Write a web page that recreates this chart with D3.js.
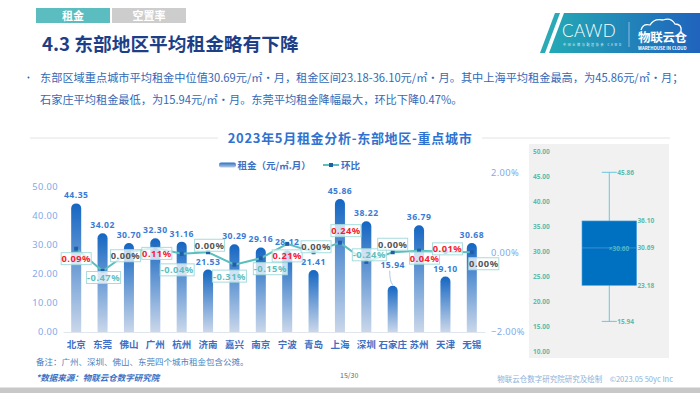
<!DOCTYPE html>
<html>
<head>
<meta charset="utf-8">
<style>
    body { margin: 0; background: #fff; }
    svg { display: block; font-family: "Noto Sans CJK SC", "Noto Sans", sans-serif; }
</style>
</head>
<body>
<script src="https://d3js.org/d3.v7.min.js"></script>
<script>
    const W = 700, H = 393;

    // data
    const cities = ["北京", "东莞", "佛山", "广州", "杭州", "济南", "嘉兴", "南京", "宁波", "青岛", "上海", "深圳", "石家庄", "苏州", "天津", "无锡"];
    const rent = [44.35, 34.02, 30.70, 32.30, 31.16, 21.53, 30.29, 29.16, 28.12, 21.41, 45.86, 38.22, 15.94, 36.79, 19.10, 30.68];
    const mom = [0.09, -0.47, 0.00, 0.11, -0.04, 0.00, -0.31, -0.15, 0.21, 0.00, 0.24, -0.24, 0.00, 0.04, 0.01, 0.00];
    const leftTicks = [0, 10, 20, 30, 40, 50];
    const rightTicks = [-2, 0, 2];
    // box plot summary
    const boxStats = { min: 15.94, q1: 23.18, median: 30.69, mean: 30.60, q3: 36.10, max: 45.86 };
    const boxTicks = [10, 15, 20, 25, 30, 35, 40, 45, 50];

    // label layout nudges (px), so labels dodge each other like the original
    const momNudge = [[0, 10], [1, 6.5], [-3.5, 3.5], [1.5, 5.5], [-4.5, 16], [1.5, -7], [-5, 11.5], [9.5, 10.5],
                      [0, 12], [2.5, -5.5], [6, -12], [3, -7], [0, -8], [5.5, 7.5], [2, -3], [12, 11.5]];
    const rentNudge = [0, 0, 0, 0, 0, 0, 0, 0, 0, 0, 0, 0, -13, 0, 0, 0];

    const blue = "#3d6fc4";
    const teal = "#5cbfbf";

    const svg = d3.select("body").append("svg").attr("width", W).attr("height", H);
    const defs = svg.append("defs");

    // ---------- header ----------
    svg.append("rect").attr("x", 36).attr("y", 8).attr("width", 74).attr("height", 15).attr("fill", "#5bbdc0");
    svg.append("rect").attr("x", 112).attr("y", 8).attr("width", 74).attr("height", 15).attr("fill", "#cdcdcd");
    svg.append("text").attr("x", 73).attr("y", 19.5).attr("text-anchor", "middle").attr("fill", "#fff")
        .attr("font-size", 11).attr("font-weight", "bold").text("租金");
    svg.append("text").attr("x", 149).attr("y", 19.5).attr("text-anchor", "middle").attr("fill", "#fff")
        .attr("font-size", 11).attr("font-weight", "bold").text("空置率");

    svg.append("text").attr("x", 42).attr("y", 51).attr("fill", "#1e3f87")
        .attr("font-size", 18.7).attr("font-weight", "bold").text("4.3 东部地区平均租金略有下降");

    // logo
    const lg = defs.append("linearGradient").attr("id", "logoGrad").attr("x1", 0).attr("x2", 1);
    lg.append("stop").attr("offset", 0).attr("stop-color", "#24a9b5");
    lg.append("stop").attr("offset", 1).attr("stop-color", "#1f63bd");
    svg.append("path").attr("d", "M555,13L560,13L545,53L540,53Z").attr("fill", "#2aa9b6");
    svg.append("path").attr("d", "M564,13L700,13L700,53L549,53Z").attr("fill", "url(#logoGrad)");
    svg.append("text").attr("x", 562).attr("y", 37).attr("fill", "#fff").attr("font-size", 17)
        .attr("font-family", "Lato, sans-serif").attr("font-weight", 300).attr("letter-spacing", 0.5).text("CAWD");
    svg.append("text").attr("x", 563).attr("y", 45.5).attr("fill", "#e6f4f7").attr("font-size", 3)
        .attr("textLength", 58).text("中国仓储与配送协会 CAWD");
    svg.append("line").attr("x1", 629).attr("x2", 629).attr("y1", 22).attr("y2", 47).attr("stroke", "#cfe6f2").attr("stroke-width", 0.6);
    svg.append("path").attr("d", "M641,30 q2,-7 9,-5 q4,-7 13,-5 q8,-3 12,4 q7,0 6,7")
        .attr("fill", "none").attr("stroke", "#fff").attr("stroke-width", 1.3);
    svg.append("text").attr("x", 638).attr("y", 41.5).attr("fill", "#fff").attr("font-size", 12.5)
        .attr("font-weight", "bold").attr("letter-spacing", -0.3).text("物联云仓");
    svg.append("text").attr("x", 638).attr("y", 49.5).attr("fill", "#fff").attr("font-size", 4.3)
        .attr("font-weight", "bold").text("WAREHOUSE IN CLOUD");

    // ---------- paragraph ----------
    svg.append("circle").attr("cx", 28.5).attr("cy", 77.5).attr("r", 1).attr("fill", "#3169b7");
    svg.append("text").attr("x", 40).attr("y", 81.5).attr("fill", "#3169b7").attr("font-size", 11.2)
        .text("东部区域重点城市平均租金中位值30.69元/㎡·月，租金区间23.18-36.10元/㎡·月。其中上海平均租金最高，为45.86元/㎡·月；");
    svg.append("text").attr("x", 40).attr("y", 104).attr("fill", "#3169b7").attr("font-size", 11.2)
        .text("石家庄平均租金最低，为15.94元/㎡·月。东莞平均租金降幅最大，环比下降0.47%。");

    // ---------- chart title ----------
    svg.append("line").attr("x1", 30).attr("x2", 218).attr("y1", 138).attr("y2", 138).attr("stroke", "#e3e3e3");
    svg.append("line").attr("x1", 482).attr("x2", 670).attr("y1", 138).attr("y2", 138).attr("stroke", "#e3e3e3");
    svg.append("text").attr("x", 350).attr("y", 143).attr("text-anchor", "middle").attr("fill", "#2f72d0")
        .attr("font-size", 13).attr("font-weight", "bold").attr("letter-spacing", 0.7).text("2023年5月租金分析-东部地区-重点城市");

    // bar gradient
    const bg = defs.append("linearGradient").attr("id", "barGrad").attr("x1", 0).attr("x2", 0).attr("y1", 0).attr("y2", 1);
    bg.append("stop").attr("offset", 0).attr("stop-color", "#1466c2");
    bg.append("stop").attr("offset", 1).attr("stop-color", "#cad7ea");
    const lgd = defs.append("linearGradient").attr("id", "legGrad").attr("x1", 0).attr("x2", 0).attr("y1", 0).attr("y2", 1);
    lgd.append("stop").attr("offset", 0).attr("stop-color", "#2a6fc4");
    lgd.append("stop").attr("offset", 1).attr("stop-color", "#b9cbe6");

    // legend
    svg.append("rect").attr("x", 219).attr("y", 162.5).attr("width", 17).attr("height", 5).attr("rx", 2).attr("fill", "url(#legGrad)");
    svg.append("text").attr("x", 237.5).attr("y", 169).attr("fill", blue).attr("font-size", 9.5).attr("font-weight", "bold").text("租金（元/㎡.月）");
    svg.append("line").attr("x1", 323).attr("x2", 339).attr("y1", 165).attr("y2", 165).attr("stroke", teal).attr("stroke-width", 2);
    svg.append("rect").attr("x", 329).attr("y", 163).attr("width", 4).attr("height", 4).attr("fill", "#1f5fa8");
    svg.append("text").attr("x", 341).attr("y", 169).attr("fill", blue).attr("font-size", 9.5).attr("font-weight", "bold").text("环比");

    // ---------- scales ----------
    const x = d3.scaleBand().domain(cities).range([63, 485]).paddingInner(0.62).paddingOuter(0.31);
    const y = d3.scaleLinear().domain([0, 55]).range([332, 172.5]);
    const yR = d3.scaleLinear().domain([-2, 2]).range([332, 172.5]);
    const cx = c => x(c) + x.bandwidth() / 2;

    // axes
    const axL = svg.append("g").attr("transform", "translate(59,0)")
        .call(d3.axisLeft(y).tickValues(leftTicks).tickFormat(d3.format(".2f")).tickSize(0).tickPadding(1));
    const axR = svg.append("g").attr("transform", "translate(488,0)")
        .call(d3.axisRight(yR).tickValues(rightTicks).tickFormat(d => d3.format(".2f")(d) + "%").tickSize(0).tickPadding(3));
    [axL, axR].forEach(a => {
        a.select(".domain").remove();
        a.selectAll("text").attr("fill", "#7fa9ea").attr("font-size", 9.3).attr("font-family", "'Noto Sans', sans-serif").attr("letter-spacing", 0.4);
    });
    const axB = svg.append("g").attr("transform", "translate(0,332)")
        .call(d3.axisBottom(x).tickSize(0).tickPadding(9));
    axB.select(".domain").attr("stroke", "#e0e6f0");
    axB.selectAll("text").attr("fill", blue).attr("font-size", 9.5).attr("font-weight", "bold")
        .attr("font-family", "'Noto Sans CJK SC', sans-serif");

    // bars with round tops
    const bw = x.bandwidth(), r = bw / 2;
    svg.append("g").selectAll("path").data(rent).join("path")
        .attr("d", (d, i) => {
            const x0 = x(cities[i]), yt = y(d), yb = y(0);
            return `M${x0},${yb}L${x0},${yt + r}A${r},${r} 0 0 1 ${x0 + bw},${yt + r}L${x0 + bw},${yb}Z`;
        })
        .attr("fill", "url(#barGrad)");

    // leader line for moved bar labels
    svg.append("g").selectAll("path").data(rent.map((d, i) => [d, i]).filter(p => rentNudge[p[1]] !== 0)).join("path")
        .attr("d", ([d, i]) => `M${cx(cities[i]) - 3},${y(d) - 2 + rentNudge[i]}Q${cx(cities[i]) - 3},${y(d) - 4} ${cx(cities[i])},${y(d) - 1}`)
        .attr("fill", "none").attr("stroke", "#9ab8e0").attr("stroke-width", 0.8);

    svg.append("g").selectAll("text").data(rent).join("text")
        .attr("x", (d, i) => cx(cities[i]))
        .attr("y", (d, i) => y(d) - 5 + rentNudge[i])
        .attr("text-anchor", "middle").attr("fill", "#3a7bd5").attr("font-size", 8.6).attr("font-weight", "bold")
        .attr("letter-spacing", 0.5).attr("font-family", "'Noto Sans', sans-serif")
        .text(d => d.toFixed(2));

    // 环比 line
    const line = d3.line().x((d, i) => cx(cities[i])).y(d => yR(d));
    svg.append("path").datum(mom).attr("d", line).attr("fill", "none").attr("stroke", teal).attr("stroke-width", 2);
    svg.append("g").selectAll("rect").data(mom).join("rect")
        .attr("x", (d, i) => cx(cities[i]) - 2).attr("y", d => yR(d) - 2)
        .attr("width", 4).attr("height", 4).attr("fill", "#1f5fa8");

    const momColor = d => d > 0 ? "#f5222d" : d < 0 ? teal : "#555";
    const lab = svg.append("g").selectAll("g").data(mom).join("g")
        .attr("transform", (d, i) => `translate(${cx(cities[i]) + momNudge[i][0]},${yR(d) + momNudge[i][1]})`);
    lab.append("rect").attr("x", d => d < 0 ? -17 : -15).attr("y", -6)
        .attr("width", d => d < 0 ? 34 : 30).attr("height", 12)
        .attr("fill", "rgba(255,255,255,0.75)").attr("stroke", "#a6dcdc").attr("stroke-width", 1);
    lab.append("text").attr("y", 3.5).attr("text-anchor", "middle").attr("fill", momColor)
        .attr("font-size", 9.3).attr("font-weight", "bold").attr("letter-spacing", 0.5)
        .attr("font-family", "'Noto Sans', sans-serif")
        .text(d => d.toFixed(2) + "%");

    // ---------- box plot ----------
    svg.append("rect").attr("x", 529).attr("y", 144).attr("width", 140).attr("height", 214).attr("fill", "#f1f1f1");
    const yb = d3.scaleLinear().domain([10, 50]).range([351, 151.7]);
    const axBox = svg.append("g").attr("transform", "translate(533,0)")
        .call(d3.axisRight(yb).tickValues(boxTicks).tickFormat(d3.format(".2f")).tickSize(0).tickPadding(0));
    axBox.select(".domain").remove();
    axBox.selectAll("text").attr("fill", "#5bbcae").attr("font-size", 6.5).attr("font-weight", "bold")
        .attr("font-family", "'Open Sans', sans-serif");

    const bx = 609.3, bhw = 27.3, capw = 7.5;
    const wc = "#6cc6dd";
    svg.append("line").attr("x1", bx).attr("x2", bx).attr("y1", yb(boxStats.max)).attr("y2", yb(boxStats.q3)).attr("stroke", wc);
    svg.append("line").attr("x1", bx).attr("x2", bx).attr("y1", yb(boxStats.q1)).attr("y2", yb(boxStats.min)).attr("stroke", wc);
    [boxStats.max, boxStats.min].forEach(v => {
        svg.append("line").attr("x1", bx - capw).attr("x2", bx + capw).attr("y1", yb(v)).attr("y2", yb(v)).attr("stroke", wc);
    });
    svg.append("rect").attr("x", bx - bhw).attr("y", yb(boxStats.q3)).attr("width", bhw * 2)
        .attr("height", yb(boxStats.q1) - yb(boxStats.q3)).attr("fill", "#0070c0").attr("stroke", "#4aa3dc").attr("stroke-width", 0.6);
    svg.append("line").attr("x1", bx - bhw).attr("x2", bx + bhw).attr("y1", yb(boxStats.median)).attr("y2", yb(boxStats.median))
        .attr("stroke", "#3d8fd0").attr("stroke-width", 1);
    const boxLabel = (tx, v, txt) => svg.append("text").attr("x", tx).attr("y", yb(v) + 2.3)
        .attr("fill", "#5bbcae").attr("font-size", 6.5).attr("font-weight", "bold")
        .attr("font-family", "'Open Sans', sans-serif").text(txt);
    boxLabel(bx + capw + 0.5, boxStats.max, boxStats.max.toFixed(2));
    boxLabel(bx + capw + 0.5, boxStats.min, boxStats.min.toFixed(2));
    boxLabel(bx + bhw + 0.8, boxStats.q3, boxStats.q3.toFixed(2));
    boxLabel(bx + bhw + 0.8, boxStats.median, boxStats.median.toFixed(2));
    boxLabel(bx + bhw + 0.8, boxStats.q1, boxStats.q1.toFixed(2));
    boxLabel(bx - 0.5, boxStats.mean, "×" + boxStats.mean.toFixed(2)).attr("fill", "#4fb5c8");

    // ---------- footer ----------
    svg.append("text").attr("x", 36).attr("y", 365).attr("fill", "#4a7fc1").attr("font-size", 8.5)
        .text("备注：广州、深圳、佛山、东莞四个城市租金包含公摊。");
    svg.append("text").attr("x", 36).attr("y", 381).attr("fill", "#3d6fc4").attr("font-size", 8.5)
        .attr("font-style", "italic").attr("font-weight", "bold").text("*数据来源：物联云仓数字研究院");
    svg.append("text").attr("x", 340).attr("y", 378).attr("fill", "#666").attr("font-size", 7).text("15/30");
    svg.append("text").attr("x", 673).attr("y", 382).attr("text-anchor", "end").attr("fill", "#8fb0d8").attr("font-size", 7.5)
        .text("物联云仓数字研究院研究及绘制　©2023.05 50yc Inc");
    svg.append("rect").attr("x", 0).attr("y", 387.5).attr("width", W).attr("height", 6).attr("fill", "#c8c8c8");
</script>
</body>
</html>
